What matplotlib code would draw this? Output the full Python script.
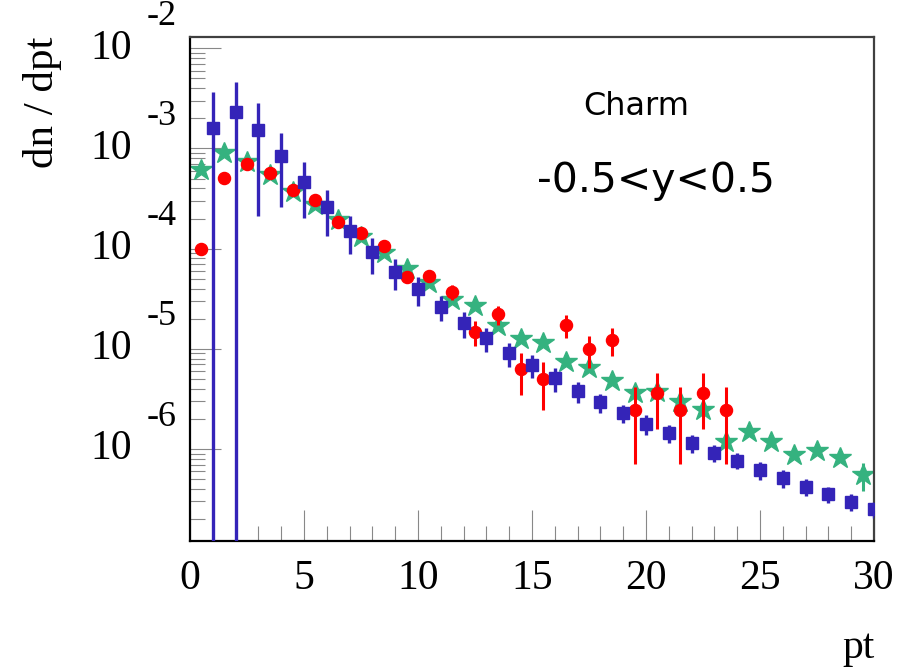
import numpy as np
import matplotlib
matplotlib.use("Agg")
import matplotlib.pyplot as plt
from matplotlib.ticker import LogLocator, MultipleLocator, NullFormatter

# blue squares, bin centres at integer pt
pt_blue = [1, 2, 3, 4, 5, 6, 7, 8, 9, 10, 11, 12, 13, 14, 15,
           16, 17, 18, 19, 20, 21, 22, 23, 24, 25, 26, 27, 28, 29, 30]
blue = [1.61e-3, 2.30e-3, 1.53e-3, 8.48e-4, 4.67e-4, 2.59e-4, 1.51e-4, 9.20e-5, 5.89e-5, 3.96e-5,
        2.64e-5, 1.80e-5, 1.28e-5, 9.04e-6, 6.90e-6, 5.09e-6, 3.80e-6, 2.93e-6, 2.28e-6, 1.78e-6,
        1.44e-6, 1.15e-6, 9.2e-7, 7.66e-7, 6.18e-7, 5.12e-7, 4.22e-7, 3.56e-7, 2.99e-7, 2.52e-7]
blue_err = [2.08e-3, 2.34e-3, 1.32e-3, 5.9e-4, 2.65e-4, 1.25e-4, 6.3e-5, 3.55e-5, 2.0e-5, 1.3e-5,
            7.5e-6, 5.3e-6, 3.5e-6, 2.5e-6, 1.75e-6, 1.35e-6, 9.2e-7, 6.5e-7, 4.7e-7, 4.1e-7,
            2.9e-7, 2.3e-7, 1.8e-7, 1.4e-7, 1.3e-7, 1.0e-7, 8.2e-8, 6.6e-8, 5.7e-8, 4.7e-8]

# green stars, bin centres at half-integer pt
pt_star = [0.5, 1.5, 2.5, 3.5, 4.5, 5.5, 6.5, 7.5, 8.5, 9.5, 10.5, 11.5, 12.5, 13.5, 14.5,
           15.5, 16.5, 17.5, 18.5, 19.5, 20.5, 21.5, 22.5, 23.5, 24.5, 25.5, 26.5, 27.5, 28.5, 29.5]
star = [6.10e-4, 9.08e-4, 7.38e-4, 5.44e-4, 3.71e-4, 2.73e-4, 1.93e-4, 1.32e-4, 9.12e-5, 6.22e-5,
        4.52e-5, 3.08e-5, 2.68e-5, 1.69e-5, 1.25e-5, 1.14e-5, 7.45e-6, 6.40e-6, 4.82e-6, 3.61e-6,
        3.74e-6, 2.95e-6, 2.47e-6, 1.17e-6, 1.49e-6, 1.19e-6, 8.73e-7, 9.64e-7, 8.09e-7, 5.51e-7]
star_err = [0, 0, 0, 0, 0, 0, 0, 0, 0, 0, 0, 0, 0, 0, 0,
            0, 0, 0, 0, 0, 0, 0, 0, 0, 0, 0, 0, 0, 0, 1.7e-7]

# red circles
pt_red = [0.5, 1.5, 2.5, 3.5, 4.5, 5.5, 6.5, 7.5, 8.5, 9.5, 10.5, 11.5,
          12.5, 13.5, 14.5, 15.5, 16.5, 17.5, 18.5, 19.5, 20.5, 21.5, 22.5, 23.5]
red = [1.00e-4, 5.12e-4, 7.00e-4, 5.65e-4, 3.85e-4, 3.06e-4, 1.86e-4, 1.44e-4, 1.06e-4, 5.26e-5,
       5.34e-5, 3.72e-5, 1.49e-5, 2.23e-5, 6.25e-6, 4.98e-6, 1.73e-5, 9.91e-6, 1.23e-5, 2.45e-6,
       3.66e-6, 2.45e-6, 3.66e-6, 2.45e-6]
red_err = [5e-6, 2e-5, 2.5e-5, 2e-5, 1.5e-5, 1.2e-5, 8e-6, 7e-6, 6e-6, 4e-6,
           4e-6, 6.4e-6, 4.1e-6, 4.8e-6, 2.75e-6, 2.5e-6, 4.6e-6, 3.45e-6, 3.85e-6, 1.74e-6,
           2.07e-6, 1.74e-6, 2.07e-6, 1.74e-6]

decades = [-2, -3, -4, -5, -6]
x_ticks = [0, 5, 10, 15, 20, 25, 30]

blue_col = "#3424B8"
green_col = "#35B27F"
red_col = "#FF0000"
serif = "Liberation Serif"

fig = plt.figure(figsize=(8.99, 6.70), dpi=100)
ax = fig.add_axes([190 / 899, 1 - 541 / 670, 684 / 899, (541 - 36.7) / 670])

ax.errorbar(pt_star, star, yerr=star_err, fmt="*", color=green_col, ms=16.5,
            elinewidth=2.2, capsize=0, zorder=2)
ax.errorbar(pt_red, red, yerr=red_err, fmt="o", color=red_col, ms=8.7,
            elinewidth=2.2, capsize=0, zorder=3)
ax.errorbar(pt_blue, blue, yerr=blue_err, fmt="s", color=blue_col, ms=8.5,
            elinewidth=2.4, capsize=0, zorder=4)

ax.set_yscale("log")
ax.set_xlim(0, 30)
ax.set_ylim(1.21e-7, 1.305e-2)

ax.yaxis.set_major_locator(LogLocator(base=10, numticks=20))
ax.yaxis.set_minor_locator(LogLocator(base=10, subs=np.arange(2, 10), numticks=100))
ax.yaxis.set_major_formatter(NullFormatter())
ax.yaxis.set_minor_formatter(NullFormatter())

ax.xaxis.set_major_locator(MultipleLocator(5))
ax.xaxis.set_minor_locator(MultipleLocator(1))
ax.set_xticks(x_ticks)
ax.set_xticklabels([str(v) for v in x_ticks], fontfamily=serif, fontsize=30)

ax.tick_params(which="major", direction="in", length=22, width=0.8, color="#888888")
ax.tick_params(which="minor", direction="in", length=11, width=0.8, color="#888888")
ax.tick_params(axis="x", pad=13)
ax.tick_params(top=False, right=False)

for side in ["left", "bottom"]:
    ax.spines[side].set_color("black")
    ax.spines[side].set_linewidth(1.6)
for side in ["top", "right"]:
    ax.spines[side].set_color("#404040")
    ax.spines[side].set_linewidth(1.6)

# ROOT-style decade labels: "10" with exponent above it
for d in decades:
    ax.annotate("10", xy=(0, 10.0 ** d), xycoords=("axes fraction", "data"),
                xytext=(-58, 0), textcoords="offset pixels", ha="right", va="center",
                fontfamily=serif, fontsize=30)
    ax.annotate(str(d), xy=(0, 10.0 ** d), xycoords=("axes fraction", "data"),
                xytext=(-43, 32), textcoords="offset pixels", ha="left", va="center",
                fontfamily=serif, fontsize=26)

fig.text(42 / 899, 1 - 102 / 670, "dn / dpt", rotation=90, ha="center", va="center",
         fontfamily=serif, fontsize=31)
fig.text(875 / 899, 1 - 658 / 670, "pt", ha="right", va="baseline",
         fontfamily=serif, fontsize=30)

fig.text(636 / 899, 1 - 115 / 670, "Charm", ha="center", va="baseline",
         fontfamily="DejaVu Sans", fontsize=23)
fig.text(656 / 899, 1 - 191.7 / 670, "-0.5<y<0.5", ha="center", va="baseline",
         fontfamily="DejaVu Sans", fontsize=29.5)

fig.savefig("out.png", dpi=100)
